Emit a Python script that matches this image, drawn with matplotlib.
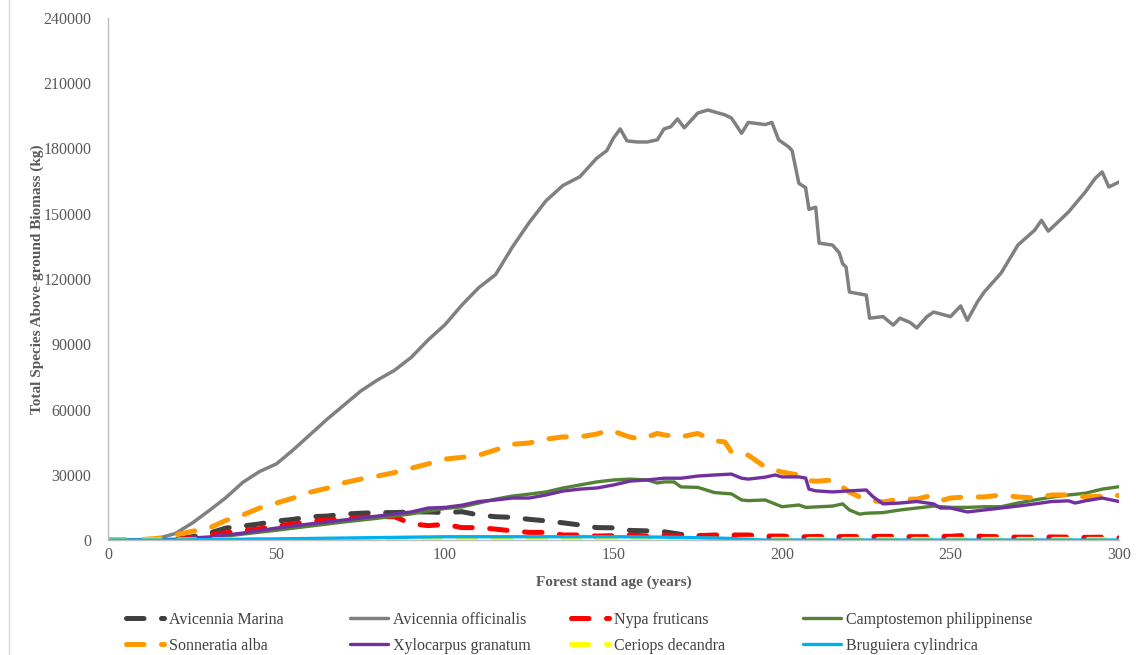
import matplotlib
matplotlib.use("Agg")
import matplotlib.pyplot as plt
from matplotlib.lines import Line2D

plt.rcParams["font.family"] = ["Liberation Serif", "DejaVu Serif"]

# common 5-year grid
years = list(range(0, 305, 5))

marina = [0, 0, 0, 0, 300, 1500, 3100, 5500, 6400, 7400, 8700, 9500, 10700, 11000, 11900,
          12300, 12600, 12600, 12900, 12900, 12600, 13000, 11500, 10700, 10400, 9500, 8800,
          7900, 6900, 5700, 5600, 4400, 4200, 3800, 2600, 1900, 1500, 1400, 1300, 1200, 1200,
          1200, 1150, 1100, 1100, 1100, 1050, 1000, 1000, 1000, 1000, 1000, 950, 950, 900,
          900, 900, 900, 850, 850, 800]

nypa = [0, 0, 0, 0, 200, 1000, 2300, 3300, 4400, 5100, 6400, 7400, 8500, 9200, 9900, 10400,
        10700, 10700, 7500, 6600, 7200, 5700, 5700, 5000, 4200, 3500, 3500, 2300, 2300, 1800,
        2000, 2300, 1800, 2300, 1800, 2000, 2300, 2300, 2300, 1800, 1800, 1400, 1600, 1500,
        1600, 1500, 1700, 1600, 1500, 1600, 1700, 2200, 1600, 1500, 1300, 1300, 1400, 1300,
        1200, 1300, 1000]

ceriops = [0, 0, 0, 0, 0, 50, 100, 150, 200, 200, 250, 250, 300, 300, 350, 350, 400, 400,
           400, 400, 450, 450, 450, 450, 450, 450, 400, 400, 400, 400, 400, 400, 400, 350,
           350, 350, 350, 300, 300, 300, 300, 300, 300, 300, 300, 300, 300, 300, 300, 300,
           300, 300, 300, 300, 300, 300, 300, 300, 300, 300, 300]

bruguiera = [0, 0, 0, 0, 0, 100, 200, 280, 350, 420, 500, 600, 700, 800, 900, 1000, 1100,
             1200, 1300, 1400, 1500, 1500, 1500, 1500, 1500, 1500, 1500, 1500, 1500, 1500,
             1500, 1450, 1400, 1300, 1200, 1050, 900, 700, 200, 0, 0, 0, 0, 0, 0, 0, 0, 0, 0,
             0, 0, 0, 0, 0, 0, 0, 0, 0, 0, 0, 0]

# Avicennia officinalis
offic_years = [0, 5, 10, 15, 20, 25, 30, 35, 40, 45, 50, 55, 60, 65, 70, 75, 80, 85, 90, 95,
               100, 105, 110, 115, 120, 125, 130, 135, 140, 145, 148, 150, 152, 154, 157, 160,
               163, 165, 167, 169, 171, 175, 178, 180, 183, 185, 188, 190, 195, 197, 199, 202,
               203, 205, 207, 208, 210, 211, 215, 217, 218, 219, 220, 225, 226, 230, 233, 235,
               238, 240, 243, 245, 250, 253, 255, 258, 260, 265, 270, 275, 277, 279, 280, 285,
               290, 293, 295, 297, 300]
offic = [0, 0, 0, 800, 3000, 7800, 13500, 19500, 26500, 31500, 35000, 41500, 48500, 55500,
         62000, 68500, 73600, 78000, 84000, 92000, 99000, 108000, 116000, 122000, 134700,
         146000, 156000, 163000, 167000, 175500, 179000, 184800, 189000, 183500, 183000,
         183000, 184000, 189000, 190000, 193600, 189500, 196300, 197700, 196800, 195500,
         194000, 187000, 192000, 191000, 192000, 184000, 180700, 179000, 164000, 162000,
         152000, 153000, 136500, 135600, 132000, 127000, 125500, 114000, 112600, 102000,
         102700, 98800, 102000, 100000, 97500, 102700, 104800, 102700, 107600, 101000, 109500,
         114000, 122700, 135600, 142500, 147000, 142000, 143400, 150800, 160000, 166400,
         169200, 162300, 164600]

# Camptostemon philippinense
campto_years = [0, 10, 20, 25, 30, 35, 40, 50, 60, 70, 80, 90, 100, 105, 110, 115, 120, 125,
                130, 135, 140, 145, 150, 155, 160, 163, 165, 168, 170, 175, 180, 185, 188, 190,
                195, 200, 205, 207, 210, 215, 218, 220, 223, 225, 230, 235, 240, 245, 250, 255,
                260, 265, 270, 275, 280, 285, 290, 295, 300]
campto = [0, 0, 200, 500, 1000, 1800, 2700, 4500, 6400, 8300, 10000, 12000, 14500, 15200,
          17000, 18800, 20200, 21100, 22100, 23900, 25300, 26700, 27600, 28000, 27600, 26200,
          26700, 26700, 24400, 24200, 21800, 21200, 18400, 18100, 18400, 15300, 16100, 15000,
          15200, 15600, 16600, 13800, 11900, 12300, 12600, 13800, 14700, 15600, 15000, 15000,
          15300, 15300, 17000, 18400, 19700, 20700, 21500, 23400, 24500]

# Sonneratia alba
sonn_years = [0, 5, 10, 15, 20, 25, 30, 35, 40, 45, 50, 55, 60, 65, 70, 75, 80, 85, 90, 95,
              100, 105, 110, 115, 120, 125, 130, 135, 140, 145, 149, 153, 155, 158, 160, 163,
              165, 170, 175, 180, 183, 185, 190, 195, 200, 205, 207, 210, 215, 220, 225, 230,
              235, 240, 245, 248, 250, 255, 260, 265, 270, 275, 280, 285, 290, 295, 300]
sonn = [0, 0, 200, 800, 2300, 4000, 5500, 9000, 11500, 14700, 17000, 19300, 22000, 23800,
        26300, 28000, 29400, 31000, 33000, 35000, 37200, 38000, 39000, 41400, 44000, 44600,
        46400, 47400, 47400, 48700, 50600, 48300, 47300, 46400, 47400, 49000, 48300, 47400,
        49000, 45600, 45100, 40500, 39000, 33600, 31200, 29900, 27500, 27000, 27600, 22000,
        18400, 17500, 18800, 18800, 20700, 18400, 19300, 19800, 19800, 20700, 19800, 19300,
        20700, 20700, 19800, 20200, 20500]

# Xylocarpus granatum
xylo_years = [0, 10, 20, 25, 30, 35, 40, 50, 60, 70, 80, 90, 95, 100, 105, 110, 115, 120,
              125, 130, 135, 140, 145, 150, 155, 160, 165, 170, 175, 180, 185, 188, 190, 195,
              198, 200, 205, 207, 208, 210, 215, 220, 225, 227, 230, 235, 240, 245, 247, 250,
              255, 260, 265, 270, 275, 280, 285, 287, 290, 295, 300]
xylo = [0, 0, 300, 900, 1400, 2300, 3200, 5500, 7400, 9200, 11000, 12900, 14700, 15000, 16000,
        17700, 18400, 19300, 19300, 20700, 22500, 23400, 23900, 25300, 27100, 27600, 28400,
        28400, 29400, 29900, 30300, 28400, 28000, 28900, 29900, 29000, 29000, 28500, 23400,
        22600, 22100, 22600, 23000, 19900, 16600, 17000, 17700, 16600, 14700, 14700, 12900,
        13800, 14700, 15600, 16600, 17700, 18000, 17000, 18000, 19300, 17700]

dash = (0, (3.5, 3.5))
series = [
    ("Avicennia Marina", years, marina, "#404040", 3.6, dash),
    ("Avicennia officinalis", offic_years, offic, "#808080", 2.5, "-"),
    ("Nypa fruticans", years, nypa, "#FF0000", 3.6, dash),
    ("Camptostemon philippinense", campto_years, campto, "#548235", 2.4, "-"),
    ("Sonneratia alba", sonn_years, sonn, "#FF9900", 3.6, dash),
    ("Xylocarpus granatum", xylo_years, xylo, "#7030A0", 2.4, "-"),
    ("Ceriops decandra", years, ceriops, "#FFFF00", 3.6, dash),
    ("Bruguiera cylindrica", years, bruguiera, "#00B0F0", 2.4, "-"),
]

fig = plt.figure(figsize=(11.36, 6.55), dpi=100)
ax = fig.add_axes([108 / 1136, 1 - 540 / 655, 1011 / 1136, 522 / 655])

lines = []
for name, xs, ys, col, lw, ls in series:
    ln, = ax.plot(xs, ys, color=col, lw=lw, linestyle=ls, label=name,
                  dash_capstyle="round", solid_capstyle="round", solid_joinstyle="round")
    lines.append(ln)

ax.set_xlim(0, 300)
ax.set_ylim(0, 240000)
ax.set_xticks(range(0, 301, 50))
ax.set_yticks(range(0, 240001, 30000))
ax.tick_params(length=0, labelsize=11.5, labelcolor="#595959")
ax.tick_params(axis="y", pad=12)
ax.tick_params(axis="x", pad=5)
for side in ["top", "right"]:
    ax.spines[side].set_visible(False)
for side in ["left", "bottom"]:
    ax.spines[side].set_color("#BFBFBF")
    ax.spines[side].set_linewidth(1)

ax.set_xlabel("Forest stand age (years)", fontsize=11, fontweight="bold", color="#595959")
ax.set_ylabel("Total Species Above-ground Biomass (kg)", fontsize=11, fontweight="bold",
              color="#595959")
ax.xaxis.set_label_coords(0.5, -0.068)
ax.yaxis.set_label_coords(-0.063, 0.5)

# legend laid out as 4 columns x 2 rows under the plot
col_x = [126, 350, 571, 803]
for j, x in enumerate(col_x):
    fig.legend(handles=[lines[j], lines[j + 4]], loc="upper left",
               bbox_to_anchor=(x / 1136, 1 - 612 / 655), frameon=False, fontsize=11.5,
               handlelength=2.4, handletextpad=0.3, borderpad=0, borderaxespad=0,
               labelspacing=0.62, labelcolor="#404040")

# chart area border on the left
fig.add_artist(Line2D([9 / 1136, 9 / 1136], [0, 1], color="#D9D9D9", lw=1,
                      transform=fig.transFigure))

fig.savefig("out.png", dpi=100)
